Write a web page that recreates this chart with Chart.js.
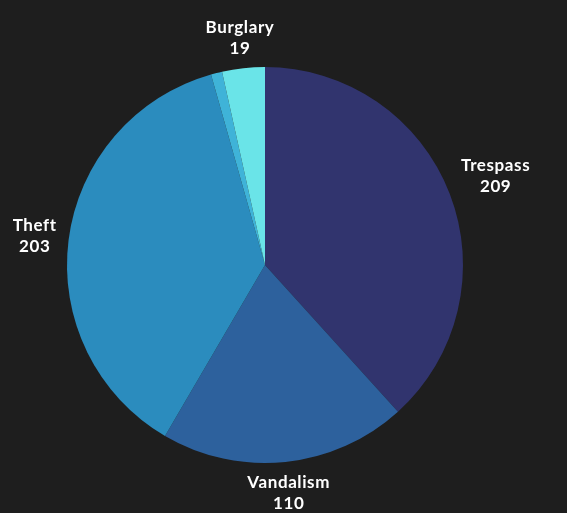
<!DOCTYPE html>
<html>
<head>
<meta charset="utf-8">
<script src="https://cdn.jsdelivr.net/npm/chart.js@4/dist/chart.umd.min.js"></script>
<style>
  html, body { margin: 0; padding: 0; background: #1e1e1e; }
  #wrap { width: 567px; height: 513px; }
</style>
</head>
<body>
<div id="wrap"><canvas id="myChart" width="567" height="513"></canvas></div>
<script>
var categories = ['Trespass', 'Vandalism', 'Theft', 'Arson', 'Burglary'];
var counts = [209, 110, 203, 5, 19];
var sliceColors = ['#31346e', '#2d619d', '#2b8cbe', '#3fb3d8', '#6ae4e8'];
var hideLabelBelow = 10; // the tiny slice carries no label

// draws "name / value" outside each slice, pushed out by the text box size
var outsideLabels = {
    id: 'outsideLabels',
    afterDatasetsDraw: function(chart) {
        var ctx = chart.ctx;
        var meta = chart.getDatasetMeta(0);
        ctx.save();
        ctx.font = 'bold 17px Lato, "DejaVu Sans", sans-serif';
        ctx.letterSpacing = '0.6px';
        ctx.fillStyle = '#ffffff';
        ctx.textAlign = 'center';
        ctx.textBaseline = 'middle';
        meta.data.forEach(function(arc, i) {
            if (counts[i] < hideLabelBelow) return;
            var p = arc.getProps(['x', 'y', 'startAngle', 'endAngle', 'outerRadius'], true);
            var mid = (p.startAngle + p.endAngle) / 2;
            var dx = Math.cos(mid), dy = Math.sin(mid);
            var w = Math.max(ctx.measureText(categories[i]).width, ctx.measureText(String(counts[i])).width);
            var hw = w / 2 + 2, hh = 21;
            var ext = Math.min(Math.abs(dx) > 0.001 ? hw / Math.abs(dx) : 1e9,
                               Math.abs(dy) > 0.001 ? hh / Math.abs(dy) : 1e9);
            var d = p.outerRadius + 10 + ext;
            var cx = p.x + dx * d, cy = p.y + dy * d;
            ctx.fillText(categories[i], cx, cy - 10);
            ctx.fillText(String(counts[i]), cx, cy + 11);
        });
        ctx.restore();
    }
};

var ctxChart = document.getElementById('myChart').getContext('2d');
var chart = new Chart(ctxChart, {
    type: 'pie',
    data: {
        labels: categories,
        datasets: [{
            data: counts,
            backgroundColor: sliceColors,
            borderWidth: 0
        }]
    },
    options: {
        responsive: false,
        animation: false,
        layout: {
            padding: { left: 67, right: 104, top: 67, bottom: 50 }
        },
        plugins: {
            legend: { display: false },
            tooltip: { enabled: false }
        }
    },
    plugins: [outsideLabels]
});
</script>
</body>
</html>
